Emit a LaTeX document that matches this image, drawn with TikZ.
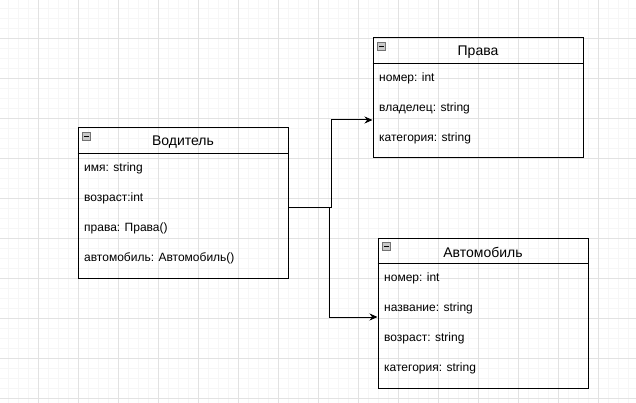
\documentclass[tikz,border=0pt]{standalone}
\usepackage{fontspec}
\setmainfont{Liberation Sans}
\usetikzlibrary{arrows.meta,positioning}

\definecolor{gridminor}{HTML}{F6F6F6}
\definecolor{gridmajor}{HTML}{E2E2E2}
\definecolor{iconfill}{HTML}{C9C9C9}

\tikzset{
	classbox/.style={draw,line width=1pt,minimum width=210pt,inner sep=0pt},
	classtitle/.style={font=\fontsize{14}{16}\selectfont,inner sep=0pt},
	attr/.style={anchor=west,font=\fontsize{12}{14}\selectfont,inner sep=0pt},
	conn/.style={line width=1pt,-{Stealth[length=8pt,width=7pt]}},
	iconbox/.style={draw=black!55,fill=iconfill,minimum size=8pt,inner sep=0pt},
}

\begin{document}
\begin{tikzpicture}[x=1pt,y=-1pt]
	\useasboundingbox (0,0) rectangle (636,403);
	% background grid
	\foreach \x in {8,18,...,628} \draw[gridminor,line width=0.8pt] (\x,0) -- (\x,403);
	\foreach \y in {8,18,...,398} \draw[gridminor,line width=0.8pt] (0,\y) -- (636,\y);
	\foreach \x in {38,78,...,598} \draw[gridmajor,line width=0.8pt] (\x,0) -- (\x,403);
	\foreach \y in {38,78,...,398} \draw[gridmajor,line width=0.8pt] (0,\y) -- (636,\y);

	% classes
	\node[classbox,minimum height=150pt] (vod) at (183,203) {};
	\draw[line width=1pt] (vod.north west) ++(0,26) -- ++(210,0);
	\node[iconbox] (vodicon) at ([shift={(9,9)}]vod.north west) {};
	\draw[line width=1pt] ([xshift=-2.5pt]vodicon.center) -- ([xshift=2.5pt]vodicon.center);
	\node[classtitle] (vodtitle) at (183,142) {Водитель};
	\node[attr] (vodname) at (84,168) {имя: string};
	\node[attr] (vodage) at (84,198) {возраст:int};
	\node[attr] (vodlic) at (84,228) {права: Права()};
	\node[attr] (vodcar) at (84,258) {автомобиль: Автомобиль()};

	\node[classbox,minimum height=120pt] (prava) at (478,98) {};
	\draw[line width=1pt] (prava.north west) ++(0,26) -- ++(210,0);
	\node[iconbox] (pravaicon) at ([shift={(9,9)}]prava.north west) {};
	\draw[line width=1pt] ([xshift=-2.5pt]pravaicon.center) -- ([xshift=2.5pt]pravaicon.center);
	\node[classtitle] (pravatitle) at (478,52) {Права};
	\node[attr] (pravanum) at (379,78) {номер: int};
	\node[attr] (pravaown) at (379,108) {владелец: string};
	\node[attr] (pravacat) at (379,138) {категория: string};

	\node[classbox,minimum height=150pt] (avto) at (483,313) {};
	\draw[line width=1pt] (avto.north west) ++(0,26) -- ++(210,0);
	\node[iconbox] (avtoicon) at ([shift={(9,9)}]avto.north west) {};
	\draw[line width=1pt] ([xshift=-2.5pt]avtoicon.center) -- ([xshift=2.5pt]avtoicon.center);
	\node[classtitle] (avtotitle) at (483,252) {Автомобиль};
	\node[attr] (avtonum) at (384,278) {номер: int};
	\node[attr] (avtoname) at (384,308) {название: string};
	\node[attr] (avtoage) at (384,338) {возраст: string};
	\node[attr] (avtocat) at (384,368) {категория: string};

	% connectors
	\coordinate (vodout) at ([yshift=-5pt]vod.east);
	\coordinate (pravain) at ([yshift=-22pt]prava.west);
	\coordinate (avtoin) at ([yshift=-4pt]avto.west);
	\draw[conn] (vodout) -- ++(43,0) |- (pravain);
	\draw[conn] (vodout) -- ++(41,0) |- (avtoin);
\end{tikzpicture}
\end{document}
